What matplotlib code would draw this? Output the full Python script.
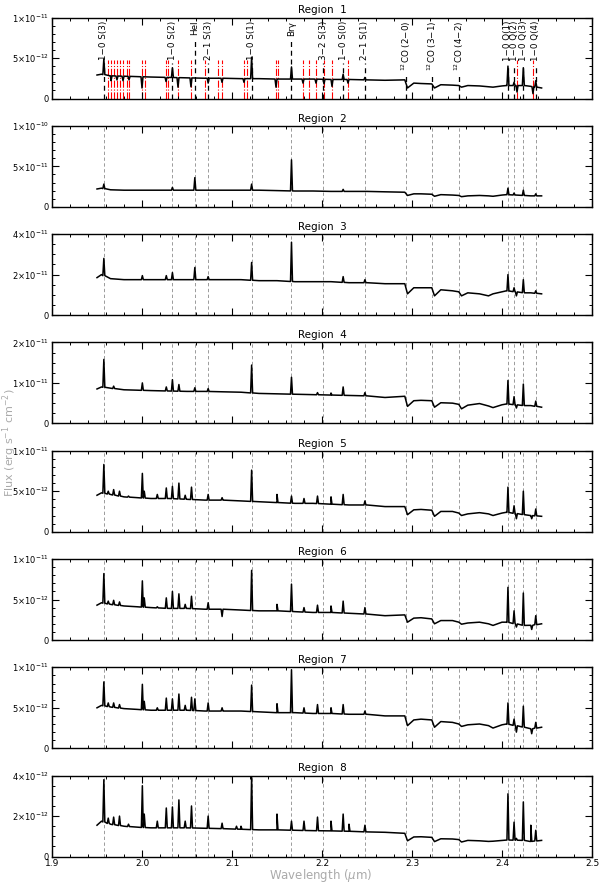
import numpy as np
import matplotlib
matplotlib.use('Agg')
import matplotlib.pyplot as plt
from matplotlib.ticker import MultipleLocator, FixedLocator
import matplotlib.transforms as mtransforms

# lineas identificadas (region 1) y sus etiquetas
lab_wl = [1.9576, 2.0338, 2.0587, 2.0735, 2.1218, 2.1661, 2.2014, 2.2235, 2.2477,
          2.2935, 2.3227, 2.3525, 2.4066, 2.4134, 2.4237, 2.4375]
lab_txt = ['1\u22120 S(3)', '1\u22120 S(2)', 'HeI', '2\u22121 S(3)', '1\u22120 S(1)', 'Br\u03b3',
           '3\u22122 S(3)', '1\u22120 S(0)', '2\u22121 S(1)', '$^{12}$CO (2\u22120)',
           '$^{12}$CO (3\u22121)', '$^{12}$CO (4\u22122)', '1\u22120 Q(1)', '1\u22120 Q(2)',
           '1\u22120 Q(3)', '1\u22120 Q(4)']
# lineas grises en las regiones 2-8
gray_wl = [1.9576, 2.0338, 2.0587, 2.0735, 2.1218, 2.1661, 2.2014, 2.2477,
           2.2935, 2.3227, 2.3525, 2.4066, 2.4134, 2.4237, 2.4375]
# lineas rojas (region 1)
red_wl = [1.9622, 1.9656, 1.9689, 1.9722, 1.9756, 1.9789, 1.9833, 1.9856, 2.0000, 2.0028,
          2.0267, 2.0294, 2.0400, 2.0544, 2.0700, 2.0844, 2.0889, 2.1133, 2.1167, 2.1489,
          2.1511, 2.1789, 2.1856, 2.1933, 2.2022, 2.2111, 2.2289, 2.4167, 2.4344]

# continuo (unidades de 1e-12)
cont_wl = [1.950, 1.955, 1.965, 1.980, 1.995, 2.010, 2.030, 2.050, 2.070, 2.090,
           2.110, 2.130, 2.150, 2.170, 2.190, 2.210, 2.230, 2.250, 2.270, 2.292,
           2.295, 2.302, 2.310, 2.322, 2.325, 2.332, 2.345, 2.352, 2.355, 2.362,
           2.375, 2.385, 2.390, 2.400, 2.405, 2.425, 2.432, 2.444]
cont_r1 = [2.9, 3.0, 2.8, 2.75, 2.7, 2.65, 2.6, 2.55, 2.5, 2.5, 2.45, 2.45, 2.4, 2.4, 2.4, 2.35,
           2.35, 2.3, 2.25, 2.3, 1.3, 1.9, 1.85, 1.8, 1.3, 1.7, 1.65, 1.6, 1.4, 1.6, 1.55, 1.45,
           1.4, 1.55, 1.6, 1.6, 1.5, 1.3]
cont_r2 = [22, 23, 21, 20.5, 20.5, 20.5, 20.5, 20.5, 20.5, 20.5, 20.5, 20.5, 20, 19.5, 19.5, 19,
           19, 19, 18.5, 18, 14, 16, 16, 15.5, 13, 15, 14.5, 14, 12.5, 13.5, 14, 13.5, 13, 14.5,
           15, 14, 13.5, 13.5]
cont_r3 = [18.5, 20, 18, 17.5, 17.5, 17.5, 17.5, 17.5, 17.5, 17.5, 17.5, 17, 17, 16.5, 16.5,
           16.5, 16, 16, 15.5, 15.5, 10.5, 13.5, 13.5, 13.5, 9.5, 12.5, 12, 11.5, 9.5, 11, 10.5,
           9.5, 10.5, 11.5, 12, 11, 11, 10.5]
cont_r4 = [8.5, 9.0, 8.7, 8.3, 8.2, 8.1, 8.0, 7.9, 7.9, 7.8, 7.7, 7.4, 7.3, 7.2, 7.1, 7.0, 6.9,
           6.8, 6.4, 6.7, 4.2, 5.6, 5.7, 5.6, 4.0, 5.1, 5.0, 4.7, 3.6, 4.5, 4.9, 4.3, 3.9, 4.6,
           4.8, 4.4, 4.4, 4.0]
cont_r5 = [4.5, 4.8, 4.6, 4.3, 4.2, 4.1, 4.1, 4.0, 3.9, 3.9, 3.8, 3.7, 3.6, 3.5, 3.5, 3.4, 3.3,
           3.3, 3.1, 3.1, 2.1, 2.7, 2.75, 2.65, 1.9, 2.5, 2.5, 2.3, 2.0, 2.2, 2.35, 2.2, 2.0, 2.3,
           2.4, 2.1, 2.0, 1.9]
cont_r6 = [4.3, 4.6, 4.4, 4.2, 4.1, 4.0, 3.9, 3.9, 3.8, 3.8, 3.7, 3.6, 3.6, 3.5, 3.4, 3.4, 3.3,
           3.2, 3.0, 3.1, 2.2, 2.7, 2.75, 2.6, 2.0, 2.4, 2.4, 2.2, 1.95, 2.1, 2.2, 2.0, 1.8, 2.2,
           2.2, 1.8, 1.8, 2.0]
cont_r7 = [5.0, 5.3, 5.1, 4.9, 4.8, 4.7, 4.7, 4.7, 4.6, 4.6, 4.6, 4.5, 4.4, 4.4, 4.3, 4.3, 4.2,
           4.2, 4.0, 4.0, 2.8, 3.5, 3.6, 3.5, 2.6, 3.3, 3.2, 3.0, 2.7, 2.9, 3.0, 2.8, 2.5, 2.9,
           3.0, 2.6, 2.4, 2.6]
cont_r8 = [1.55, 1.75, 1.6, 1.5, 1.45, 1.42, 1.42, 1.42, 1.4, 1.38, 1.35, 1.32, 1.32, 1.3, 1.28,
           1.27, 1.25, 1.22, 1.2, 1.15, 0.78, 0.97, 0.98, 0.95, 0.74, 0.88, 0.87, 0.84, 0.72, 0.8,
           0.78, 0.75, 0.76, 0.8, 0.82, 0.8, 0.75, 0.8]

# lineas (emision y absorcion): longitud de onda y flujo del pico (1e-12)
fwl_r1 = [1.9576, 1.9656, 1.9722, 1.9789, 1.9856, 2.0000, 2.0267, 2.0338, 2.0400, 2.0544,
          2.0735, 2.0889, 2.1133, 2.1218, 2.1489, 2.1661, 2.1789, 2.1933, 2.2022, 2.2111,
          2.2235, 2.2289, 2.2477, 2.4066, 2.4134, 2.4167, 2.4237, 2.4344, 2.4375]
ffx_r1 = [4.9, 2.2, 2.3, 2.2, 2.3, 1.3, 2.1, 3.8, 1.4, 1.45, 1.9, 2.0, 2.0, 5.1, 1.4, 3.9, 1.9,
          1.9, 1.8, 1.5, 3.0, 1.9, 2.6, 4.0, 2.0, 0.8, 3.8, 0.6, 2.2]
fwl_r2 = [1.9576, 2.0338, 2.0587, 2.1218, 2.1661, 2.2235, 2.4066, 2.4134, 2.4237, 2.4375]
ffx_r2 = [28, 24, 36, 28, 58, 21.5, 23, 17, 20.5, 16]
fwl_r3 = [1.9576, 2.0004, 2.0270, 2.0338, 2.0587, 2.0735, 2.1218, 2.1661, 2.2235, 2.2477,
          2.4066, 2.4134, 2.4160, 2.4237, 2.4375]
ffx_r3 = [28, 19.5, 19.5, 21, 23.5, 19, 26, 36, 19, 17.5, 20, 13.5, 9.5, 17.5, 12]
fwl_r4 = [1.9576, 1.9685, 2.0004, 2.0270, 2.0338, 2.0410, 2.0587, 2.0735, 2.1218, 2.1661,
          2.1950, 2.2100, 2.2235, 2.2477, 2.4066, 2.4134, 2.4160, 2.4237, 2.4375]
ffx_r4 = [15.8, 9.2, 10.0, 9.0, 10.8, 9.6, 8.8, 8.6, 14.4, 11.4, 7.6, 7.5, 9.0, 7.6, 10.6, 6.6,
          3.8, 9.7, 5.5]
fwl_r5 = [1.9576, 1.9625, 1.9685, 1.9750, 1.9850, 2.0004, 2.0025, 2.0170, 2.0270, 2.0338,
          2.0410, 2.0480, 2.0550, 2.0735, 2.0890, 2.1218, 2.1500, 2.1661, 2.1800, 2.1950,
          2.2100, 2.2235, 2.2477, 2.4066, 2.4134, 2.4160, 2.4237, 2.4330, 2.4375]
ffx_r5 = [8.3, 5.0, 5.2, 5.0, 4.4, 7.2, 5.0, 4.6, 5.4, 5.6, 6.0, 4.5, 5.5, 4.6, 4.2, 7.6, 4.6,
          4.4, 4.1, 4.4, 4.3, 4.6, 3.8, 5.5, 3.2, 1.6, 5.0, 1.6, 2.8]
fwl_r6 = [1.9576, 1.9625, 1.9685, 1.9750, 2.0004, 2.0025, 2.0170, 2.0270, 2.0338, 2.0410,
          2.0480, 2.0550, 2.0735, 2.0890, 2.1218, 2.1500, 2.1661, 2.1800, 2.1950, 2.2100,
          2.2235, 2.2477, 2.4066, 2.4134, 2.4160, 2.4237, 2.4330, 2.4375]
ffx_r6 = [8.2, 4.8, 4.9, 4.7, 7.3, 5.2, 4.1, 5.2, 6.0, 5.7, 4.4, 5.4, 4.6, 2.9, 8.6, 4.4, 6.9,
          4.0, 4.3, 4.2, 4.8, 4.0, 6.5, 3.6, 1.6, 5.8, 1.3, 3.0]
fwl_r7 = [1.9576, 1.9625, 1.9685, 1.9750, 2.0004, 2.0025, 2.0170, 2.0270, 2.0338, 2.0410,
          2.0480, 2.0550, 2.0587, 2.0735, 2.0890, 2.1218, 2.1500, 2.1661, 2.1800, 2.1950,
          2.2100, 2.2235, 2.2477, 2.4066, 2.4134, 2.4160, 2.4237, 2.4330, 2.4375]
ffx_r7 = [8.2, 5.6, 5.6, 5.4, 7.9, 5.8, 5.0, 6.2, 6.1, 6.7, 5.3, 6.3, 6.1, 5.6, 5.0, 7.8, 5.5,
          9.7, 5.0, 5.4, 5.0, 5.4, 4.6, 5.6, 3.6, 2.0, 5.2, 1.8, 3.2]
fwl_r8 = [1.9576, 1.9625, 1.9685, 1.9750, 1.9850, 2.0004, 2.0025, 2.0170, 2.0270, 2.0338,
          2.0410, 2.0480, 2.0550, 2.0735, 2.0890, 2.1050, 2.1100, 2.1218, 2.1500, 2.1661,
          2.1800, 2.1950, 2.2100, 2.2235, 2.2300, 2.2477, 2.4066, 2.4134, 2.4160, 2.4237,
          2.4320, 2.4375]
ffx_r8 = [3.8, 1.9, 1.95, 2.0, 1.6, 3.5, 2.1, 1.75, 2.4, 2.45, 2.8, 1.75, 2.5, 2.0, 1.65, 1.5,
          1.5, 3.95, 2.1, 1.75, 1.75, 1.95, 1.75, 2.1, 1.6, 1.55, 3.1, 1.7, 0.9, 2.7, 1.55, 1.3]

conts = [cont_r1, cont_r2, cont_r3, cont_r4, cont_r5, cont_r6, cont_r7, cont_r8]
fwls = [fwl_r1, fwl_r2, fwl_r3, fwl_r4, fwl_r5, fwl_r6, fwl_r7, fwl_r8]
ffxs = [ffx_r1, ffx_r2, ffx_r3, ffx_r4, ffx_r5, ffx_r6, ffx_r7, ffx_r8]
ytop = [10, 100, 40, 20, 10, 10, 10, 4]          # 1e-12
ymajor = [5, 50, 20, 10, 5, 5, 5, 2]
yminor = [1, 10, 5, 2.5, 1, 1, 1, 0.5]


def espectro(cont, fwl, ffx, hw=0.0011):
    w = list(cont_wl)
    f = list(cont)
    for lw, lf in zip(fwl, ffx):
        base = np.interp(lw, cont_wl, cont)
        w += [lw - hw, lw, lw + hw]
        f += [base, lf, base]
    w = np.array(w)
    f = np.array(f)
    idx = np.argsort(w, kind='stable')
    return w[idx], f[idx] * 1e-12


def fmt(v):
    if v == 0:
        return '0'
    e = int(np.floor(np.log10(v) + 1e-9))
    m = int(round(v / 10**e))
    return r'$%d{\times}10^{%d}$' % (m, e)


fig = plt.figure(figsize=(6, 8.85), dpi=100)
W, H = 600.0, 885.0
axes = []
for k in range(8):
    top = 17.5 + 108.3 * k
    ax = fig.add_axes([52 / W, 1 - (top + 81) / H, 540 / W, 81 / H])
    axes.append(ax)
    w, f = espectro(conts[k], fwls[k], ffxs[k])

    trans = mtransforms.blended_transform_factory(ax.transData, ax.transAxes)
    if k == 0:
        for rw in red_wl:
            ax.plot([rw, rw], [0, 0.48], transform=trans, color='red', ls='-.', lw=0.8, zorder=1)
    else:
        for gw in gray_wl:
            ax.axvline(gw, color='#8c8c8c', ls=(0, (4, 3)), lw=0.6, zorder=1)

    ax.plot(w, f, color='black', lw=1.1, zorder=2)

    ax.set_xlim(1.9, 2.5)
    ax.set_ylim(0, ytop[k] * 1e-12)
    ax.xaxis.set_major_locator(MultipleLocator(0.1))
    ax.xaxis.set_minor_locator(MultipleLocator(0.02))
    maj = np.arange(0, ytop[k] + 1e-6, ymajor[k]) * 1e-12
    ax.yaxis.set_major_locator(FixedLocator(maj))
    ax.yaxis.set_minor_locator(MultipleLocator(yminor[k] * 1e-12))
    ax.set_yticklabels([fmt(v) for v in maj])
    ax.tick_params(which='both', direction='in', top=True, right=True, labelsize=6.0, pad=2)
    ax.tick_params(which='major', length=5, width=0.8)
    ax.tick_params(which='minor', length=2.5, width=0.7)
    for s in ax.spines.values():
        s.set_linewidth(1.0)
    if k < 7:
        ax.set_xticklabels([])
    else:
        ax.set_xticks(np.arange(1.9, 2.51, 0.1))
        ax.set_xticklabels(['%.1f' % t for t in np.arange(1.9, 2.51, 0.1)])
        ax.tick_params(axis='x', labelsize=6.5)
        ax.set_xlim(1.9, 2.5)
    ax.set_title('Region  %d' % (k + 1), fontsize=7.5, pad=3)

# etiquetas de la region 1
ax = axes[0]
trans = mtransforms.blended_transform_factory(ax.transData, ax.transAxes)
textos = []
for lw_, lt in zip(lab_wl, lab_txt):
    t = ax.text(lw_, 0.96, lt, transform=trans, rotation=90, ha='center', va='top',
                fontsize=6.3, zorder=3)
    textos.append(t)
fig.canvas.draw()
rend = fig.canvas.get_renderer()
for lw_, t in zip(lab_wl, textos):
    bb = t.get_window_extent(rend)
    y0 = ax.transAxes.inverted().transform((bb.x0, bb.y0))[1] - 0.04
    ax.plot([lw_, lw_], [0, y0], transform=trans, color='black', ls=(0, (4, 3)), lw=0.9, zorder=1)

fig.text(0.016, 0.5, 'Flux (erg s$^{-1}$ cm$^{-2}$)', rotation=90, ha='center', va='center',
         color='#aaaaaa', fontsize=8)
fig.text(0.535, 0.001, 'Wavelength ($\\mu$m)', ha='center', va='bottom', color='#aaaaaa',
         fontsize=8.5)

fig.savefig('out.png', dpi=100)
